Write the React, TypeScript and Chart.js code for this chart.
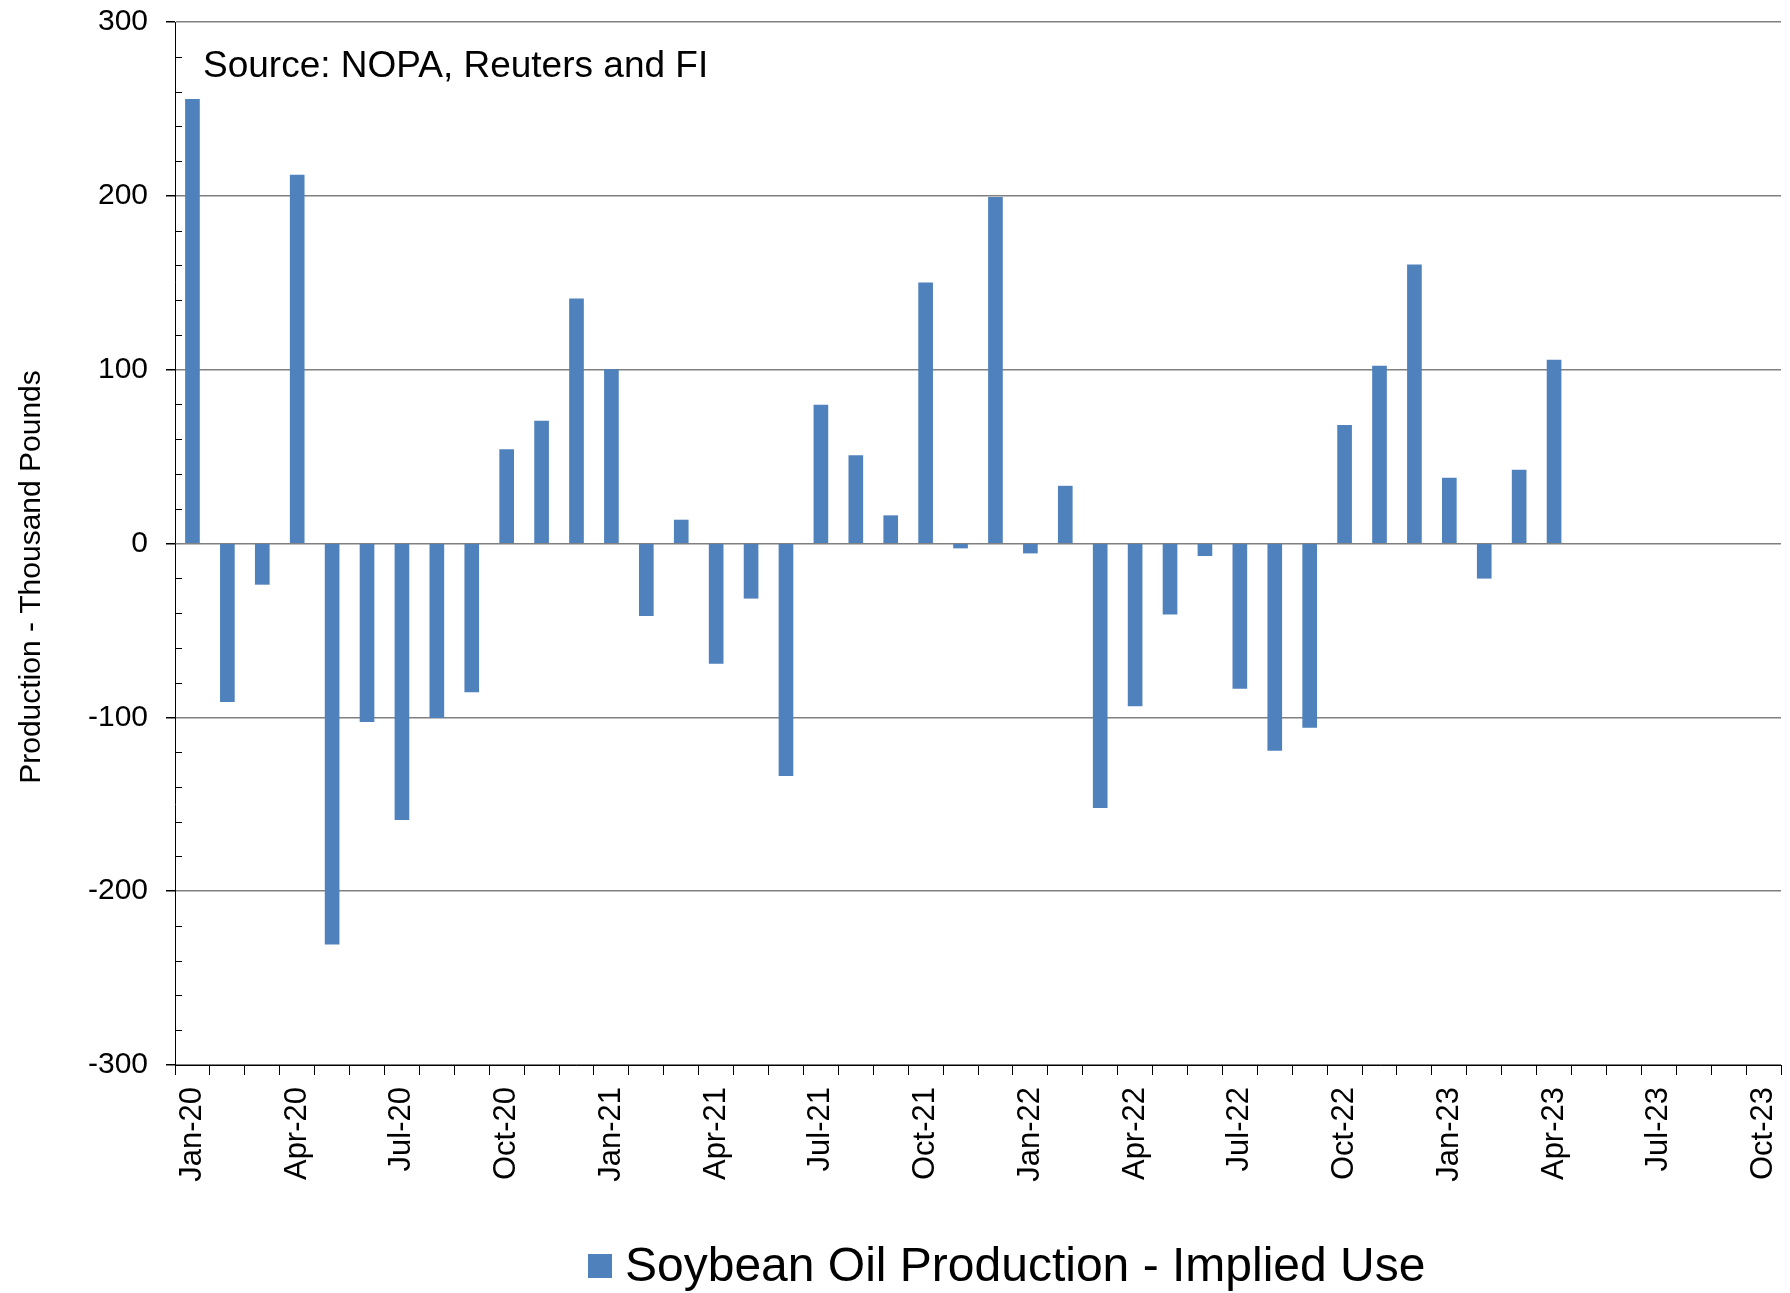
import React, { useEffect, useRef } from 'react';
import { Chart, registerables } from 'chart.js';

Chart.register(...registerables);

const categories = [
  'Jan-20', 'Feb-20', 'Mar-20', 'Apr-20', 'May-20', 'Jun-20', 'Jul-20', 'Aug-20', 'Sep-20', 'Oct-20', 'Nov-20', 'Dec-20',
  'Jan-21', 'Feb-21', 'Mar-21', 'Apr-21', 'May-21', 'Jun-21', 'Jul-21', 'Aug-21', 'Sep-21', 'Oct-21', 'Nov-21', 'Dec-21',
  'Jan-22', 'Feb-22', 'Mar-22', 'Apr-22', 'May-22', 'Jun-22', 'Jul-22', 'Aug-22', 'Sep-22', 'Oct-22', 'Nov-22', 'Dec-22',
  'Jan-23', 'Feb-23', 'Mar-23', 'Apr-23', 'May-23', 'Jun-23', 'Jul-23', 'Aug-23', 'Sep-23', 'Oct-23',
];

const values = [
  255.5, -91, -23.5, 212, -230.5, -102.5, -158.8, -100.2, -85.4, 54, 70.4, 140.8,
  100, -41.5, 13.5, -69, -31.5, -133.5, 79.6, 50.6, 16, 150, -2.6, 199.2,
  -5.5, 33, -152, -93.4, -40.6, -7, -83.4, -119, -105.8, 68, 102, 160.3,
  37.7, -20, 42.2, 105.5,
];

const yTickLabels = [-300, -200, -100, 0, 100, 200, 300];

const SERIES_NAME = 'Soybean Oil Production - Implied Use';
const Y_TITLE = 'Production - Thousand Pounds';
const SOURCE = 'Source: NOPA, Reuters and FI';
const BAR_COLOR = '#4F81BD';
const FONT = '"Liberation Sans", Arial, sans-serif';

const isMajor = (v: number) => yTickLabels.includes(Math.round(v));

const overlay = {
  id: 'overlay',
  afterDraw(chart: any) {
    const ctx = chart.ctx;
    const y = chart.scales.y;
    const area = chart.chartArea;
    ctx.save();
    // minor inside ticks on the value axis
    ctx.strokeStyle = '#000';
    ctx.lineWidth = 1;
    for (let v = -300; v <= 300; v += 20) {
      if (isMajor(v)) continue;
      const py = Math.round(y.getPixelForValue(v)) + 0.5;
      ctx.beginPath();
      ctx.moveTo(area.left, py);
      ctx.lineTo(area.left + 7, py);
      ctx.stroke();
    }
    // source note
    ctx.fillStyle = '#000';
    ctx.font = '37px ' + FONT;
    ctx.textAlign = 'left';
    ctx.textBaseline = 'alphabetic';
    ctx.fillText(SOURCE, 203, 77);
    // y title
    ctx.save();
    ctx.translate(40, 577);
    ctx.rotate(-Math.PI / 2);
    ctx.font = '30px ' + FONT;
    ctx.textAlign = 'center';
    ctx.textBaseline = 'alphabetic';
    ctx.fillText(Y_TITLE, 0, 0);
    ctx.restore();
    // legend
    ctx.fillStyle = BAR_COLOR;
    ctx.fillRect(588, 1254, 24, 24);
    ctx.fillStyle = '#000';
    ctx.font = '48px ' + FONT;
    ctx.textAlign = 'left';
    ctx.textBaseline = 'alphabetic';
    ctx.fillText(SERIES_NAME, 625, 1281);
    ctx.restore();
  },
};

export default function App() {
  const ref = useRef<HTMLCanvasElement>(null);

  useEffect(() => {
    const chart = new Chart(ref.current as HTMLCanvasElement, {
      type: 'bar',
      data: {
        labels: categories,
        datasets: [
          {
            label: SERIES_NAME,
            data: values,
            backgroundColor: BAR_COLOR,
            borderWidth: 0,
            barThickness: 14,
          },
        ],
      },
      options: {
        responsive: false,
        devicePixelRatio: 1,
        animation: false,
        layout: { padding: { left: 0, right: 9, top: 22, bottom: 0 } },
        plugins: {
          legend: { display: false },
          tooltip: { enabled: false },
        },
        scales: {
          x: {
            type: 'category',
            offset: true,
            grid: {
              offset: true,
              drawOnChartArea: false,
              drawTicks: true,
              tickLength: 10,
              color: '#000',
              tickColor: '#000',
              lineWidth: 1,
            },
            border: { display: true, color: '#000', width: 1 },
            ticks: {
              autoSkip: false,
              maxRotation: 90,
              minRotation: 90,
              padding: 12,
              color: '#000',
              font: { family: FONT, size: 31 },
              callback: (_v: any, i: number) => (i % 3 === 0 ? categories[i] : ''),
            },
            afterFit: (s: any) => {
              s.height = 228;
              s.paddingLeft = 0;
              s.paddingRight = 0;
              s.paddingTop = 0;
              s.paddingBottom = 0;
            },
          },
          y: {
            min: -300,
            max: 300,
            grid: {
              color: (c: any) => (c.tick && isMajor(c.tick.value) ? '#808080' : 'rgba(0,0,0,0)'),
              tickColor: (c: any) => (c.tick && isMajor(c.tick.value) ? '#000' : 'rgba(0,0,0,0)'),
              lineWidth: 1.5,
              tickLength: 9,
            },
            border: { display: true, color: '#000', width: 1 },
            ticks: {
              stepSize: 20,
              autoSkip: false,
              padding: 18,
              color: '#000',
              font: { family: FONT, size: 30 },
              callback: (v: any) => (isMajor(Number(v)) ? String(Math.round(Number(v))) : ''),
            },
            afterFit: (s: any) => {
              s.width = 175;
              s.paddingTop = 0;
              s.paddingBottom = 0;
              s.paddingLeft = 0;
              s.paddingRight = 0;
            },
          },
        },
      },
      plugins: [overlay],
    });
    return () => chart.destroy();
  }, []);

  return (
    <div style={{ position: 'fixed', left: 0, top: 0, width: 1790, height: 1293, background: '#fff' }}>
      <canvas ref={ref} width={1790} height={1293} style={{ width: 1790, height: 1293, display: 'block' }} />
    </div>
  );
}
